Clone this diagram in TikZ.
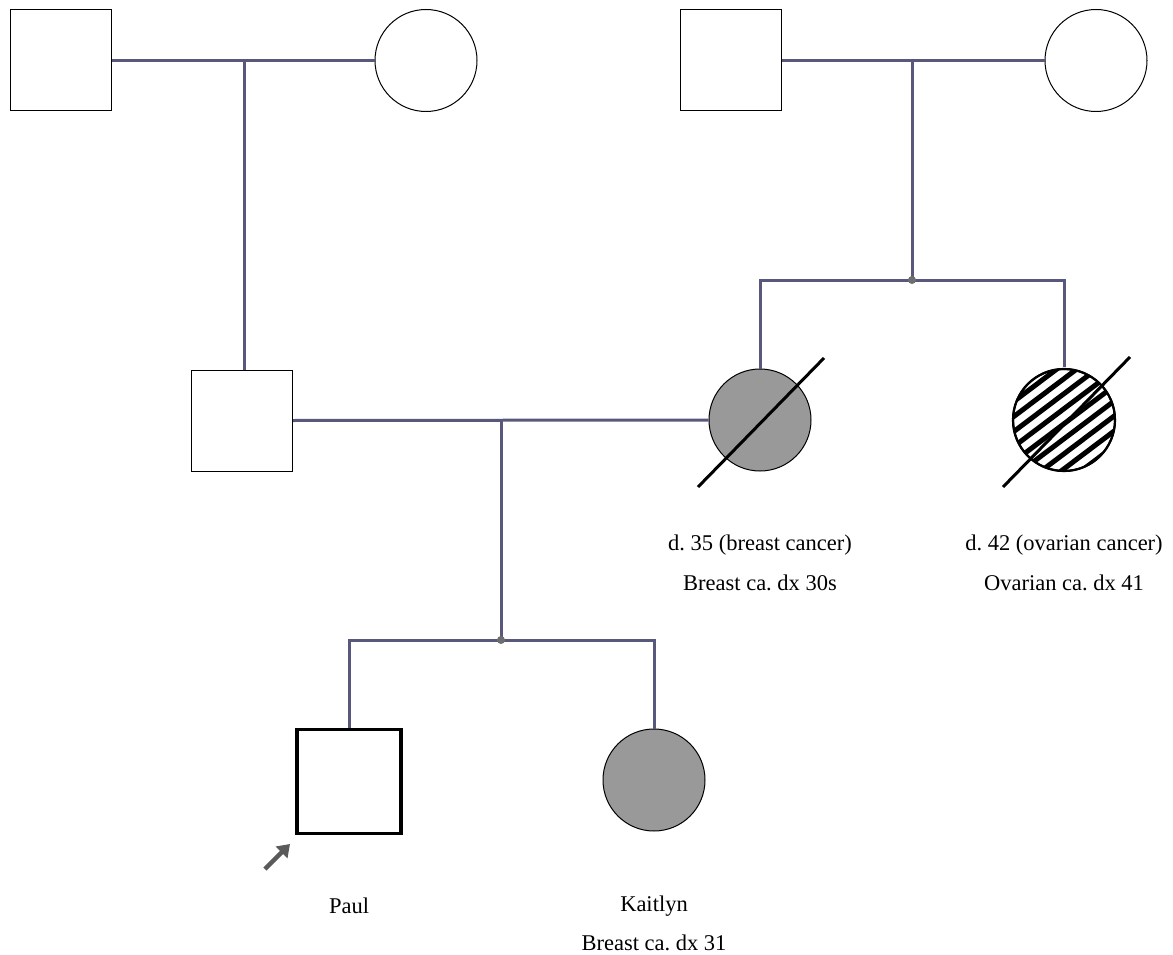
\documentclass[tikz,border=0pt]{standalone}
\usepackage{fontspec}
\setmainfont{Liberation Serif}
\usetikzlibrary{calc,arrows.meta}
\definecolor{linkc}{RGB}{88,88,124}
\definecolor{affc}{RGB}{153,153,153}
\definecolor{dotc}{RGB}{110,110,110}
\definecolor{arrc}{RGB}{90,90,90}
\frenchspacing
\begin{document}
\begin{tikzpicture}[x=1pt,y=-1pt,
  male/.style={draw=black,line width=1pt,fill=white,rectangle,minimum size=101pt,inner sep=0pt},
  female/.style={draw=black,line width=1pt,fill=white,circle,minimum size=102pt,inner sep=0pt},
  proband/.style={male,line width=3.5pt,minimum size=104pt},
  affected/.style={fill=affc},
  link/.style={draw=linkc,line width=3pt},
  slash/.style={draw=black,line width=3pt},
  hatch/.style={draw=black,line width=5pt},
  sibdot/.style={circle,fill=dotc,inner sep=0pt,minimum size=8pt},
  lab/.style={font=\fontsize{22.5}{26}\selectfont,inner sep=0pt}]
\useasboundingbox (0,0) rectangle (1173,955);
\fill[white] (0,0) rectangle (1173,955);
% generation I
\node[male] (gf1) at (60.5,60.5) {};
\node[female] (gm1) at (426,60.5) {};
\node[male] (gf2) at (730.5,60.5) {};
\node[female] (gm2) at (1096,60.5) {};
% generation II
\node[male] (father) at (242,420.5) {};
\node[female,affected] (mother) at (760,420) {};
\node[female,line width=2pt] (aunt) at (1064,420) {};
\begin{scope}
  \clip (aunt.center) circle[radius=51pt];
  \begin{scope}[shift={(aunt.center)},rotate=37]
    \foreach \k in {-5,...,5} \draw[hatch] (-80,\k*12+3) -- (80,\k*12+3);
  \end{scope}
\end{scope}
\draw[black,line width=2.2pt] (aunt.center) circle[radius=51pt];
% generation III
\node[proband] (paul) at (349,781.5) {};
\node[female,affected] (kait) at (654,780) {};
% coordinates
\coordinate (m1) at (244,60);
\coordinate (m2) at (912,60);
\coordinate (s2) at (912,280);
\coordinate (m3) at (501,420);
\coordinate (s3) at (501,640);
% connectors
\draw[link] (gf1.east) -- (gm1.west);
\draw[link] (m1) -- (m1 |- father.north);
\draw[link] (gf2.east) -- (gm2.west);
\draw[link] (m2) -- (s2);
\draw[link] (mother.north) -- (mother.north |- s2) -- (aunt.north |- s2) -- ($(aunt.north)+(0,-1)$);
\draw[link] (father.east) -- (mother.west);
\draw[link] (m3) -- (s3);
\draw[link] (paul.north) -- (paul.north |- s3) -- (kait.north |- s3) -- (kait.north);
\node[sibdot] (d2) at (s2) {};
\node[sibdot] (d3) at (s3) {};
% deceased slashes
\coordinate (ms1) at ($(mother.center)+(-62,67)$);
\coordinate (ms2) at ($(mother.center)+(64,-62)$);
\draw[slash] (ms1) -- (ms2);
\coordinate (as1) at ($(aunt.center)+(-61,67)$);
\coordinate (as2) at ($(aunt.center)+(66,-63)$);
\draw[slash] (as1) -- (as2);
% proband arrow
\coordinate (pa1) at (265,869);
\coordinate (pa2) at (290,844);
\draw[draw=arrc,line width=4.5pt,-{Triangle[length=12pt,width=16pt]}] (pa1) -- (pa2);
% labels
\node[lab] (ml1) at (760,545) {d. 35 (breast cancer)};
\node[lab] (ml2) at (760,583) {Breast ca. dx 30s};
\node[lab] (al1) at (1064,545) {d. 42 (ovarian cancer)};
\node[lab] (al2) at (1064,583) {Ovarian ca. dx 41};
\node[lab] (pl1) at (349,906) {Paul};
\node[lab] (kl1) at (654,906) {Kaitlyn};
\node[lab] (kl2) at (654,943) {Breast ca. dx 31};
\end{tikzpicture}
\end{document}
